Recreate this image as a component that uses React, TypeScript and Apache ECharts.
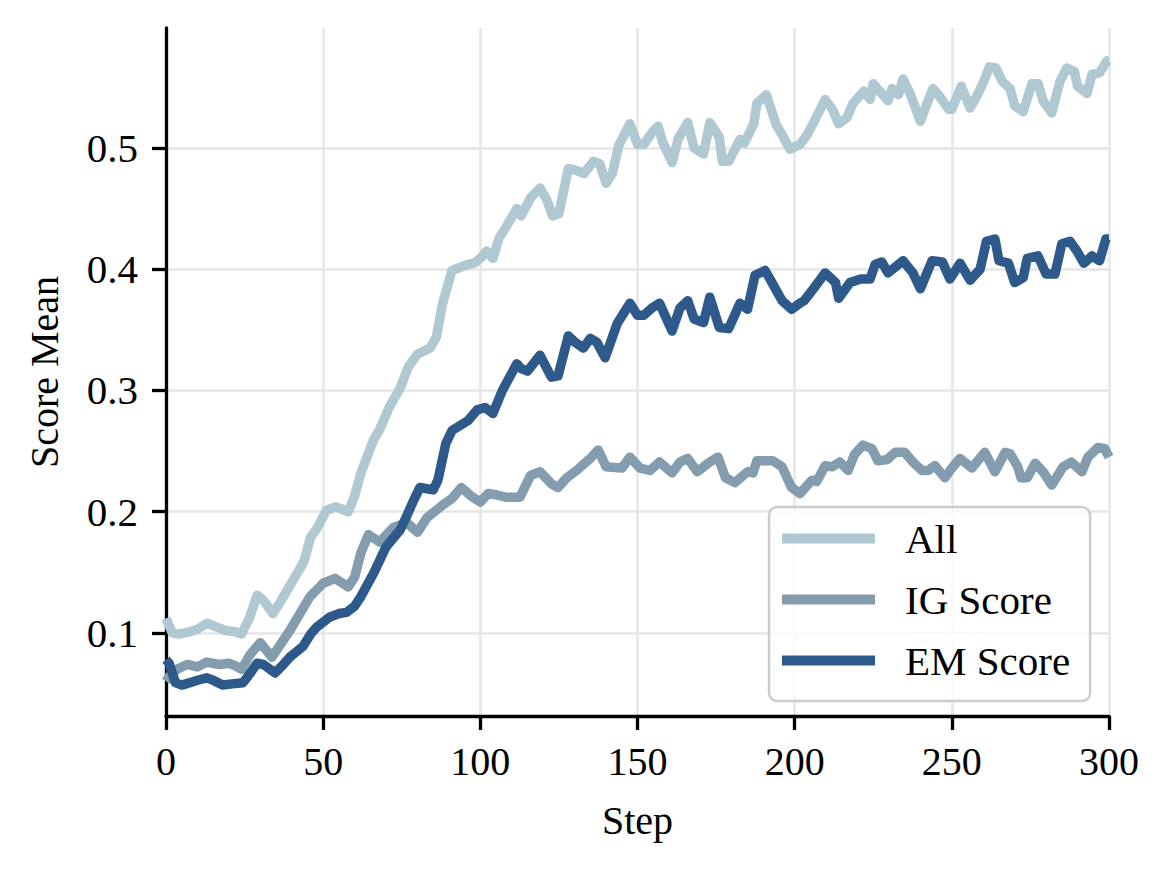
import React, { useEffect, useRef } from "react";
import * as echarts from "echarts";

const FONT = "'Liberation Serif', 'Times New Roman', Times, serif";

const seriesNames = ["All", "IG Score", "EM Score"];
const seriesColors = ["#b0c8d2", "#839cae", "#2e5a8b"];

const xTicks = [0, 50, 100, 150, 200, 250, 300];
const yTicks = [0.1, 0.2, 0.3, 0.4, 0.5];

const allSteps = [0, 2, 4, 7.6, 10, 13, 15, 17, 19, 22, 24, 26.5, 29, 31, 34, 36, 38.5, 42.6, 44, 46, 48, 51, 54, 56, 58, 60, 62, 66, 68, 71, 74.5, 77, 80, 84, 86, 88, 91, 93, 96, 98, 100, 102, 104, 106, 108, 111.6, 113, 116, 119, 121, 123, 125, 128, 130, 133, 136, 138, 140, 142, 144, 147.6, 150, 152, 155, 156.5, 158, 161, 163, 166, 168, 171, 173, 176, 177, 179, 182.6, 184, 187, 188, 191, 194, 196, 198.5, 201.7, 204, 206, 209.7, 212, 214, 216.6, 218.6, 222, 224, 225, 227, 229.7, 231, 233, 234.5, 236.7, 240, 242, 244, 246, 249, 250, 253, 255.8, 258, 260, 262, 264, 266, 268.5, 270, 272.7, 275.5, 277.5, 279, 281.8, 284.4, 286.6, 289, 290, 293, 294.6, 297, 299.4, 300];
const allValues = [0.112, 0.1, 0.099, 0.101, 0.103, 0.108, 0.106, 0.104, 0.102, 0.101, 0.099, 0.112, 0.131, 0.127, 0.116, 0.124, 0.135, 0.153, 0.16, 0.179, 0.186, 0.201, 0.204, 0.202, 0.2, 0.213, 0.232, 0.259, 0.268, 0.286, 0.302, 0.319, 0.33, 0.335, 0.344, 0.372, 0.399, 0.401, 0.404, 0.405, 0.409, 0.415, 0.409, 0.426, 0.434, 0.45, 0.444, 0.459, 0.467, 0.458, 0.444, 0.446, 0.483, 0.482, 0.479, 0.489, 0.487, 0.471, 0.479, 0.502, 0.52, 0.503, 0.503, 0.514, 0.518, 0.505, 0.488, 0.508, 0.521, 0.5, 0.495, 0.521, 0.509, 0.489, 0.489, 0.507, 0.504, 0.52, 0.537, 0.544, 0.52, 0.511, 0.499, 0.503, 0.511, 0.521, 0.54, 0.532, 0.52, 0.525, 0.537, 0.547, 0.54, 0.553, 0.547, 0.539, 0.549, 0.544, 0.557, 0.545, 0.522, 0.536, 0.549, 0.543, 0.532, 0.532, 0.551, 0.533, 0.543, 0.554, 0.567, 0.566, 0.555, 0.549, 0.535, 0.53, 0.553, 0.553, 0.539, 0.529, 0.555, 0.566, 0.563, 0.551, 0.545, 0.561, 0.562, 0.572, 0.572];

const igSteps = [0, 1, 3.5, 6.7, 10, 13, 17, 20, 22, 24, 26.7, 30, 33.7, 36, 39.4, 42.6, 45.8, 50, 53.8, 58, 60, 62, 64.4, 68, 72.3, 76.6, 80, 83, 87.8, 91, 94, 97, 100, 102.5, 105, 108, 112.6, 116, 119, 122.6, 124.7, 127.5, 130.6, 135, 137.5, 140, 145, 147.6, 150.8, 154, 157, 161, 163.5, 166, 169, 173, 175.6, 178, 181, 185, 186.7, 188, 193, 196, 199, 201.7, 205.5, 207, 209.7, 212, 214.4, 217, 219, 221.7, 224.6, 226.5, 229.4, 232, 235, 237.6, 240.5, 242.5, 244.6, 247.8, 250, 252.6, 256.4, 260.5, 263.7, 267, 268.5, 271, 272, 274, 276.5, 279, 281.8, 285.4, 288, 291.4, 293.3, 296.5, 298.7, 300];
const igValues = [0.06, 0.064, 0.07, 0.074, 0.072, 0.076, 0.074, 0.075, 0.073, 0.07, 0.082, 0.092, 0.08, 0.089, 0.102, 0.116, 0.13, 0.141, 0.145, 0.138, 0.146, 0.166, 0.181, 0.175, 0.187, 0.191, 0.183, 0.195, 0.205, 0.211, 0.22, 0.213, 0.208, 0.215, 0.214, 0.212, 0.212, 0.23, 0.233, 0.223, 0.22, 0.228, 0.234, 0.244, 0.251, 0.237, 0.236, 0.245, 0.236, 0.234, 0.241, 0.232, 0.241, 0.244, 0.233, 0.241, 0.245, 0.228, 0.224, 0.233, 0.232, 0.242, 0.242, 0.237, 0.22, 0.215, 0.226, 0.225, 0.238, 0.237, 0.241, 0.234, 0.247, 0.255, 0.252, 0.242, 0.243, 0.249, 0.249, 0.241, 0.234, 0.234, 0.238, 0.228, 0.236, 0.244, 0.236, 0.249, 0.233, 0.249, 0.248, 0.237, 0.228, 0.228, 0.24, 0.233, 0.222, 0.237, 0.241, 0.233, 0.245, 0.253, 0.252, 0.245];

const emSteps = [0, 1, 3, 5, 7.6, 10, 13, 15, 18, 21, 24.5, 26, 29, 31, 34.7, 37, 39.4, 43.6, 46, 48, 52, 55, 57.5, 60, 62, 66, 70, 74.5, 76.5, 78.7, 80.8, 85, 86.5, 89, 91, 96, 99, 101.5, 104, 107, 111.6, 113, 115, 119, 122.6, 124.7, 128, 130, 132.8, 135, 137, 139.7, 143.5, 147.6, 150, 152, 154.6, 157, 161, 163.5, 166, 168, 171, 173, 176, 179, 182.6, 185, 187.4, 190.6, 193, 196, 199, 201.7, 203, 206, 209.7, 213, 214, 217.6, 221, 224, 225.6, 227.7, 229.7, 234.5, 237.6, 240, 243.7, 247, 249.4, 252.6, 255.8, 259, 261, 263.7, 265, 268, 270, 272.7, 274, 277.4, 280, 282.8, 285, 287.6, 289.8, 292, 294.6, 297, 299, 300];
const emValues = [0.078, 0.075, 0.059, 0.057, 0.059, 0.061, 0.063, 0.061, 0.057, 0.058, 0.059, 0.064, 0.075, 0.074, 0.067, 0.073, 0.08, 0.089, 0.099, 0.105, 0.113, 0.116, 0.117, 0.122, 0.13, 0.149, 0.171, 0.185, 0.196, 0.209, 0.22, 0.218, 0.226, 0.256, 0.267, 0.275, 0.284, 0.286, 0.281, 0.3, 0.322, 0.318, 0.316, 0.329, 0.311, 0.312, 0.345, 0.34, 0.335, 0.343, 0.34, 0.327, 0.355, 0.372, 0.362, 0.362, 0.368, 0.372, 0.349, 0.368, 0.374, 0.359, 0.356, 0.377, 0.352, 0.351, 0.372, 0.367, 0.395, 0.399, 0.388, 0.374, 0.367, 0.372, 0.374, 0.384, 0.397, 0.389, 0.376, 0.389, 0.392, 0.392, 0.404, 0.406, 0.397, 0.407, 0.397, 0.384, 0.407, 0.406, 0.392, 0.405, 0.391, 0.4, 0.423, 0.425, 0.407, 0.405, 0.389, 0.393, 0.409, 0.411, 0.396, 0.396, 0.421, 0.423, 0.415, 0.405, 0.411, 0.407, 0.425, 0.425];

const stepLists = [allSteps, igSteps, emSteps];
const valueLists = [allValues, igValues, emValues];

export default function App() {
  const ref = useRef<HTMLDivElement>(null);

  useEffect(() => {
    if (!ref.current) return;
    const chart = echarts.init(ref.current, undefined, { renderer: "svg" });
    const gridColor = "#e6e6e6";
    chart.setOption({
      animation: false,
      backgroundColor: "#ffffff",
      textStyle: { fontFamily: FONT },
      grid: { left: 166, right: 61, top: 28, bottom: 154, containLabel: false },
      xAxis: {
        type: "value",
        min: 0,
        max: 300,
        interval: 50,
        name: "Step",
        nameLocation: "middle",
        nameGap: 84,
        nameTextStyle: { fontFamily: FONT, fontSize: 40, color: "#000" },
        axisLine: { show: true, lineStyle: { color: "#000", width: 3.3 } },
        axisTick: { show: true, length: 14, lineStyle: { color: "#000", width: 3.3 } },
        axisLabel: {
          fontFamily: FONT, fontSize: 40, color: "#000", margin: 25,
          customValues: xTicks,
          formatter: (v: number) => String(v),
        },
        splitLine: { show: true, lineStyle: { color: gridColor, width: 2.5 } },
      },
      yAxis: {
        type: "value",
        min: 0.0315,
        max: 0.599,
        name: "Score Mean",
        nameLocation: "middle",
        nameGap: 102,
        nameRotate: 90,
        nameTextStyle: { fontFamily: FONT, fontSize: 40, color: "#000" },
        axisLine: { show: true, lineStyle: { color: "#000", width: 3.3 } },
        axisTick: { show: true, length: 14, customValues: yTicks, lineStyle: { color: "#000", width: 3.3 } },
        axisLabel: {
          fontFamily: FONT, fontSize: 41, color: "#000", margin: 28,
          customValues: yTicks,
          formatter: (v: number) => v.toFixed(1),
        },
        splitLine: { show: true, lineStyle: { color: gridColor, width: 2.5 } },
      },
      legend: {
        orient: "vertical",
        left: 769,
        top: 507,
        padding: [11, 20, 20, 13],
        itemWidth: 93,
        itemHeight: 10,
        itemGap: 20,
        icon: "rect",
        backgroundColor: "rgba(255,255,255,0.8)",
        borderColor: "#cccccc",
        borderWidth: 2.5,
        borderRadius: 8,
        textStyle: { fontFamily: FONT, fontSize: 41, color: "#000", lineHeight: 40, padding: [0, 0, 0, 25] },
        data: seriesNames,
      },
      series: seriesNames.map((name, i) => ({
        name,
        type: "line",
        showSymbol: false,
        symbol: "none",
        color: seriesColors[i],
        lineStyle: { color: seriesColors[i], width: 9.5, join: "round", cap: "butt" },
        data: stepLists[i].map((s, j) => [s, valueLists[i][j]]),
        z: 2 + i,
      })),
    });
    return () => chart.dispose();
  }, []);

  return (
    <div
      ref={ref}
      style={{ position: "fixed", left: 0, top: 0, width: 1170, height: 870, background: "#fff" }}
    />
  );
}
